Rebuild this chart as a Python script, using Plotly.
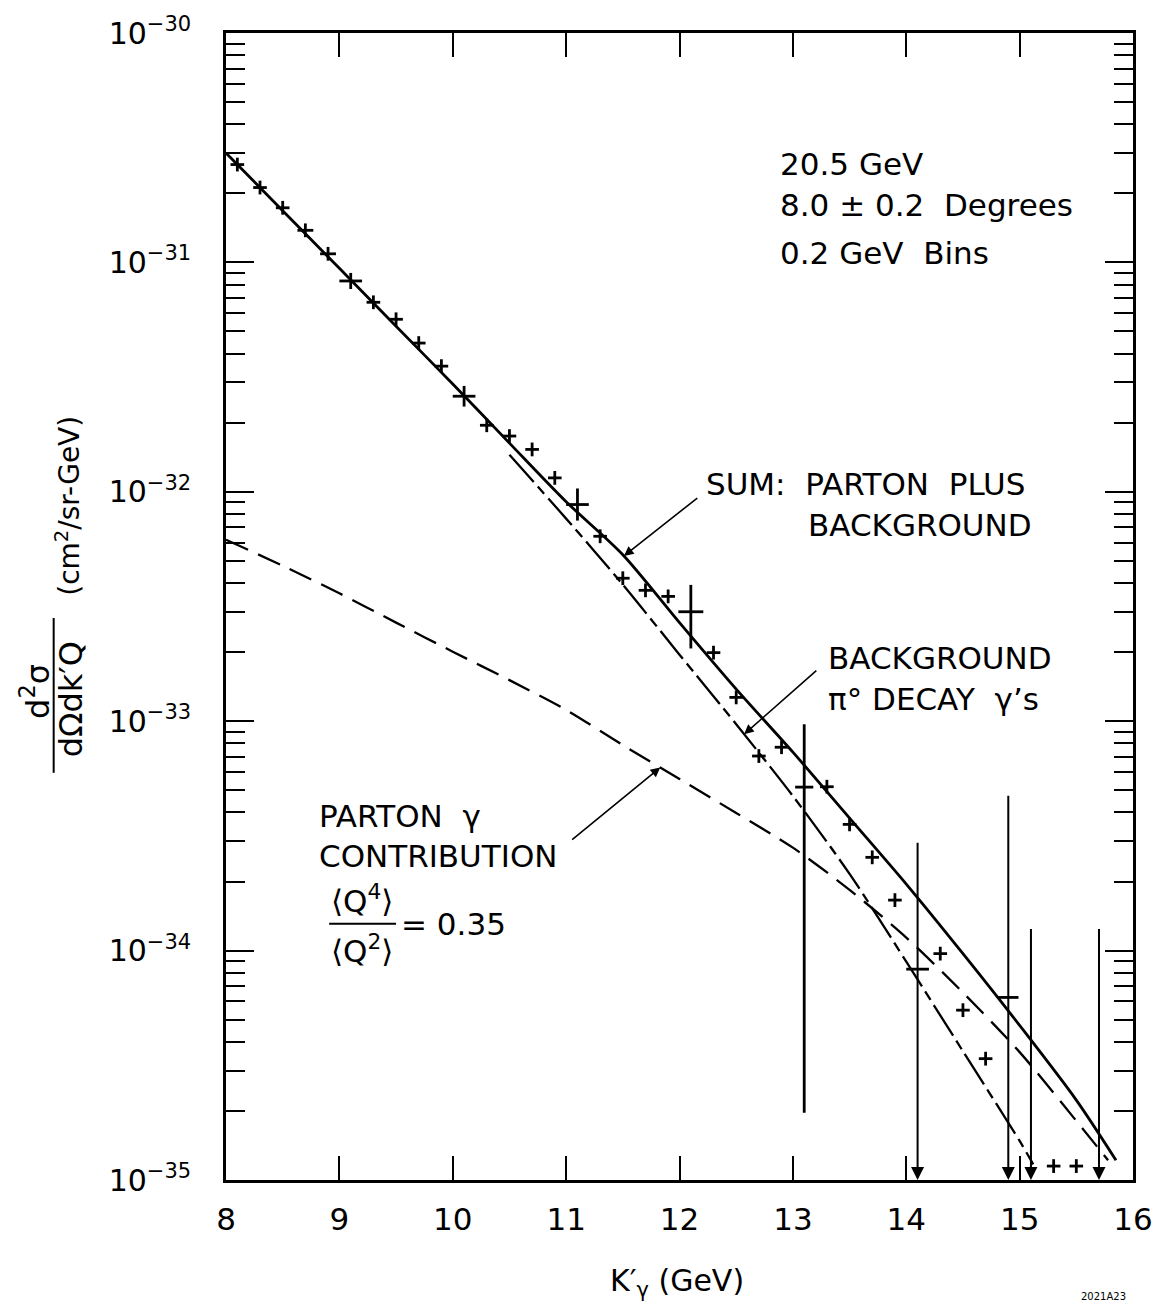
import numpy as np
import plotly.graph_objects as go

# ---------------- data ----------------
pt_x = [8.1, 8.3, 8.5, 8.7, 8.9, 9.1, 9.3, 9.5, 9.7, 9.9,
        10.1, 10.3, 10.5, 10.7, 10.9, 11.1, 11.3, 11.5, 11.7, 11.9,
        12.1, 12.3, 12.5, 12.7, 12.9, 13.1, 13.3, 13.5, 13.7, 13.9,
        14.1, 14.3, 14.5, 14.7, 14.9, 15.3, 15.5]
pt_y = [2.67e-31, 2.12e-31, 1.73e-31, 1.38e-31, 1.09e-31, 8.3e-32, 6.7e-32, 5.65e-32, 4.45e-32, 3.53e-32,
        2.61e-32, 1.95e-32, 1.75e-32, 1.53e-32, 1.15e-32, 8.8e-33, 6.4e-33, 4.2e-33, 3.72e-33, 3.5e-33,
        3.0e-33, 1.99e-33, 1.27e-33, 7.05e-34, 7.7e-34, 5.16e-34, 5.18e-34, 3.55e-34, 2.55e-34, 1.66e-34,
        8.3e-35, 9.7e-35, 5.5e-35, 3.38e-35, 6.25e-35, 1.15e-35, 1.15e-35]
# half widths of the horizontal arms (GeV)
pt_xerr = [0.06, 0.06, 0.06, 0.07, 0.07, 0.1, 0.06, 0.06, 0.06, 0.06,
           0.1, 0.06, 0.06, 0.06, 0.06, 0.1, 0.06, 0.06, 0.06, 0.06,
           0.11, 0.06, 0.06, 0.06, 0.06, 0.08, 0.06, 0.06, 0.06, 0.06,
           0.1, 0.06, 0.06, 0.06, 0.09, 0.06, 0.06]
# vertical arms, in decades (up / down); 0 where an upper-limit arrow is drawn instead
pt_dex_up = [0.03, 0.03, 0.03, 0.03, 0.03, 0.035, 0.03, 0.03, 0.03, 0.03,
             0.045, 0.03, 0.03, 0.03, 0.03, 0.07, 0.03, 0.03, 0.03, 0.03,
             0.117, 0.03, 0.03, 0.03, 0.03, 0.274, 0.03, 0.03, 0.03, 0.03,
             0.0, 0.03, 0.03, 0.03, 0.0, 0.03, 0.03]
pt_dex_dn = [0.03, 0.03, 0.03, 0.03, 0.03, 0.035, 0.03, 0.03, 0.03, 0.03,
             0.045, 0.03, 0.03, 0.03, 0.03, 0.07, 0.03, 0.03, 0.03, 0.03,
             0.16, 0.03, 0.03, 0.03, 0.03, 1.42, 0.03, 0.03, 0.03, 0.03,
             0.0, 0.03, 0.03, 0.03, 0.0, 0.03, 0.03]

# error bars extending below the plot (drawn as downward arrows)
lim_x = [14.1, 14.9, 15.1, 15.7]
lim_top = [3.0e-34, 4.8e-34, 1.26e-34, 1.26e-34]

# curves
sum_x = [8.0, 8.5, 9.0, 9.5, 10.0, 10.5, 11.0, 11.5, 12.0, 12.5, 13.0, 13.5, 14.0, 14.5, 15.0, 15.5, 15.85]
sum_y = [3.0e-31, 1.68e-31, 9.42e-32, 5.27e-32, 2.95e-32, 1.63e-32, 9.05e-33, 5.32e-33, 2.69e-33, 1.38e-33,
         7.33e-34, 3.78e-34, 1.95e-34, 9.7e-35, 4.72e-35, 2.23e-35, 1.22e-35]
par_x = [8.0, 8.5, 9.0, 9.5, 10.0, 10.5, 11.0, 11.5, 12.0, 12.5, 13.0, 13.5, 14.0, 14.5, 15.0, 15.5, 15.78]
par_y = [6.18e-33, 4.76e-33, 3.61e-33, 2.69e-33, 2.01e-33, 1.51e-33, 1.12e-33, 7.87e-34, 5.6e-34, 3.98e-34,
         2.81e-34, 1.84e-34, 1.14e-34, 6.56e-35, 3.61e-35, 1.81e-35, 1.22e-35]
bkg_x = [10.5, 11.0, 11.5, 12.0, 12.5, 13.0, 13.5, 14.0, 14.5, 15.0, 15.12]
bkg_y = [1.45e-32, 7.64e-33, 3.94e-33, 1.95e-33, 9.7e-34, 4.72e-34, 2.16e-34, 8.95e-35, 3.64e-35, 1.48e-35, 1.17e-35]

y_decades = [-35, -34, -33, -32, -31, -30]
y_ticktext = ["10<sup>\u221235</sup>", "10<sup>\u221234</sup>", "10<sup>\u221233</sup>",
              "10<sup>\u221232</sup>", "10<sup>\u221231</sup>", "10<sup>\u221230</sup>"]
x_ticks = [8, 9, 10, 11, 12, 13, 14, 15, 16]

FONT = "DejaVu Sans"
BLACK = "black"
TXT = 31

fig = go.Figure()

fig.add_trace(go.Scatter(x=sum_x, y=sum_y, mode="lines",
                         line=dict(color=BLACK, width=2.8, shape="spline", smoothing=0.8),
                         showlegend=False, hoverinfo="skip"))
fig.add_trace(go.Scatter(x=par_x, y=par_y, mode="lines",
                         line=dict(color=BLACK, width=2.3, dash="24px,11px", shape="spline", smoothing=0.8),
                         showlegend=False, hoverinfo="skip"))
fig.add_trace(go.Scatter(x=bkg_x, y=bkg_y, mode="lines",
                         line=dict(color=BLACK, width=2.3, dash="36px,6px,10px,6px", shape="spline",
                                   smoothing=0.8),
                         showlegend=False, hoverinfo="skip"))

py = np.array(pt_y)
e_up = py * (10 ** np.array(pt_dex_up) - 1)
e_dn = py * (1 - 10 ** (-np.array(pt_dex_dn)))
fig.add_trace(go.Scatter(
    x=pt_x, y=pt_y, mode="markers", marker=dict(size=1, color=BLACK),
    error_x=dict(type="data", array=pt_xerr, color=BLACK, thickness=2.8, width=0),
    error_y=dict(type="data", symmetric=False, array=e_up, arrayminus=e_dn, color=BLACK, thickness=2.8, width=0),
    showlegend=False, hoverinfo="skip"))

annotations = []
# downward arrows (upper limits / error bars extending off scale)
for lx, lt in zip(lim_x, lim_top):
    annotations.append(dict(x=lx, y=y_decades[0], ax=lx, ay=np.log10(lt), xref="x", yref="y",
                            axref="x", ayref="y", text="", showarrow=True, arrowhead=2,
                            arrowsize=1.3, arrowwidth=2, arrowcolor=BLACK, standoff=0, startstandoff=0))


def on_curve(xs, ys, x0):
    return float(np.interp(x0, xs, np.log10(ys)))


# pointer arrows for labels
pointers = [
    (11.51, on_curve(sum_x, sum_y, 11.51), 12.17, -32.022),
    (12.57, on_curve(bkg_x, bkg_y, 12.57), 13.22, -32.774),
    (11.83, on_curve(par_x, par_y, 11.83), 11.04, -33.522),
]
for tx, ty, ax_, ay_ in pointers:
    annotations.append(dict(x=tx, y=ty, ax=ax_, ay=ay_, xref="x", yref="y", axref="x", ayref="y",
                            text="", showarrow=True, arrowhead=2, arrowsize=1.2, arrowwidth=1.6,
                            arrowcolor=BLACK, standoff=0))

labels = [
    ("20.5 GeV", 12.87, -30.570),
    ("8.0 \u00b1 0.2  Degrees", 12.87, -30.748),
    ("0.2 GeV  Bins", 12.87, -30.957),
    ("SUM:  PARTON  PLUS", 12.215, -31.965),
    ("BACKGROUND", 13.118, -32.143),
    ("BACKGROUND", 13.294, -32.726),
    ("\u03c0\u00b0 DECAY  \u03b3\u2019s", 13.294, -32.904),
    ("PARTON  \u03b3", 8.806, -33.413),
    ("CONTRIBUTION", 8.806, -33.587),
    ("= 0.35", 9.53, -33.883),
]
for t, lx, ly in labels:
    annotations.append(dict(x=lx, y=ly, xref="x", yref="y", text=t, showarrow=False, xanchor="left",
                            yanchor="middle", font=dict(family=FONT, size=TXT, color=BLACK)))
# <Q4>/<Q2> fraction
annotations.append(dict(x=9.2, y=-33.774, xref="x", yref="y", text="\u27e8Q<sup>4</sup>\u27e9", showarrow=False,
                        xanchor="center", yanchor="middle", font=dict(family=FONT, size=TXT, color=BLACK)))
annotations.append(dict(x=9.2, y=-33.995, xref="x", yref="y", text="\u27e8Q<sup>2</sup>\u27e9", showarrow=False,
                        xanchor="center", yanchor="middle", font=dict(family=FONT, size=TXT, color=BLACK)))

# axis titles
annotations.append(dict(x=0.497, y=-0.089, xref="paper", yref="paper", text="K\u2032<sub>\u03b3</sub> (GeV)",
                        showarrow=False, xanchor="center", yanchor="middle",
                        font=dict(family=FONT, size=30, color=BLACK)))
annotations.append(dict(x=0.968, y=-0.102, xref="paper", yref="paper", text="2021A23",
                        showarrow=False, xanchor="center", yanchor="middle",
                        font=dict(family=FONT, size=10, color=BLACK)))
annotations.append(dict(x=-0.210, y=0.426, xref="paper", yref="paper", text="d<sup>2</sup>\u03c3",
                        textangle=-90, showarrow=False, xanchor="center", yanchor="middle",
                        font=dict(family=FONT, size=32, color=BLACK)))
annotations.append(dict(x=-0.170, y=0.419, xref="paper", yref="paper", text="d\u03a9dk\u2032Q",
                        textangle=-90, showarrow=False, xanchor="center", yanchor="middle",
                        font=dict(family=FONT, size=32, color=BLACK)))
annotations.append(dict(x=-0.174, y=0.588, xref="paper", yref="paper", text="(cm<sup>2</sup>/sr-GeV)",
                        textangle=-90, showarrow=False, xanchor="center", yanchor="middle",
                        font=dict(family=FONT, size=28, color=BLACK)))

shapes = [
    dict(type="line", xref="paper", yref="paper", x0=-0.190, x1=-0.190, y0=0.355, y1=0.49,
         line=dict(color=BLACK, width=2)),
    dict(type="line", xref="x", yref="y", x0=8.91, x1=9.5, y0=10 ** -33.883, y1=10 ** -33.883,
         line=dict(color=BLACK, width=2)),
]

y_minor = [m * 10.0 ** d for d in range(-35, -30) for m in range(2, 10)]

fig.update_layout(
    width=1165, height=1310,
    margin=dict(l=226, r=26, t=30, b=130),
    paper_bgcolor="white", plot_bgcolor="white",
    showlegend=False,
    annotations=annotations, shapes=shapes,
    font=dict(family=FONT, color=BLACK),
    xaxis=dict(range=[8, 16], tickvals=x_ticks, ticks="inside", ticklen=24, tickwidth=2, tickcolor=BLACK,
               showline=True, linewidth=2.6, linecolor=BLACK, mirror="ticks", showgrid=False, zeroline=False,
               tickfont=dict(family=FONT, size=31, color=BLACK), ticklabelstandoff=10),
    yaxis=dict(type="log", range=[-35, -30], tickvals=[10.0 ** d for d in y_decades], ticktext=y_ticktext,
               ticks="inside", ticklen=28, tickwidth=2, tickcolor=BLACK,
               minor=dict(tickvals=y_minor, ticks="inside", ticklen=19, tickwidth=2, tickcolor=BLACK,
                          showgrid=False),
               showline=True, linewidth=2.6, linecolor=BLACK, mirror="ticks", showgrid=False, zeroline=False,
               tickfont=dict(family=FONT, size=30, color=BLACK), ticklabelstandoff=26),
)

fig.write_html("out.html")
